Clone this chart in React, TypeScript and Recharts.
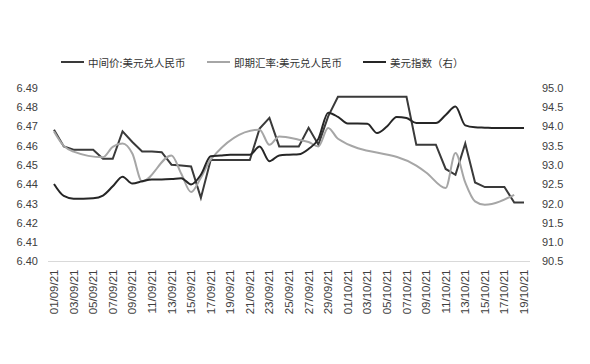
import React from 'react';
import { LineChart, Line, XAxis, YAxis } from 'recharts';

const dates = [
  '01/09/21', '02/09/21', '03/09/21', '04/09/21', '05/09/21', '06/09/21', '07/09/21',
  '08/09/21', '09/09/21', '10/09/21', '11/09/21', '12/09/21', '13/09/21', '14/09/21',
  '15/09/21', '16/09/21', '17/09/21', '18/09/21', '19/09/21', '20/09/21', '21/09/21',
  '22/09/21', '23/09/21', '24/09/21', '25/09/21', '26/09/21', '27/09/21', '28/09/21',
  '29/09/21', '30/09/21', '01/10/21', '02/10/21', '03/10/21', '04/10/21', '05/10/21',
  '06/10/21', '07/10/21', '08/10/21', '09/10/21', '10/10/21', '11/10/21', '12/10/21',
  '13/10/21', '14/10/21', '15/10/21', '16/10/21', '17/10/21', '18/10/21', '19/10/21',
];

// 中间价:美元兑人民币 (left axis)
const centralParity = [
  6.4683, 6.4597, 6.4580, 6.4580, 6.4580, 6.4533, 6.4533,
  6.4675, 6.4620, 6.4571, 6.4571, 6.4567, 6.4502, 6.4498,
  6.4493, 6.4330, 6.4526, 6.4526, 6.4526, 6.4526, 6.4526,
  6.4690, 6.4745, 6.4597, 6.4597, 6.4597, 6.4694, 6.4606,
  6.4753, 6.4854, 6.4854, 6.4854, 6.4854, 6.4854, 6.4854,
  6.4854, 6.4854, 6.4606, 6.4606, 6.4606, 6.4480, 6.4450,
  6.4612, 6.4410, 6.4386, 6.4386, 6.4386, 6.4306, 6.4306,
];

// 即期汇率:美元兑人民币 (left axis), trading days only
const spotRate: (number | null)[] = [
  6.4675, 6.4600, 6.4570, null, null, 6.4541, 6.4595,
  6.4612, 6.4560, 6.4415, null, null, 6.4550, 6.4455,
  6.4360, 6.4435, 6.4528, null, null, null, null,
  6.4684, 6.4605, 6.4649, null, 6.4632, 6.4620, 6.4597,
  6.4692, 6.4637, null, null, null, null, null,
  null, null, 6.4497, 6.4462, null, 6.4381, 6.4563,
  6.4410, 6.4312, 6.4294, null, null, 6.4346, null,
];

// 美元指数（右） (right axis)
const dollarIndex = [
  92.51, 92.20, 92.13, 92.13, 92.14, 92.21, 92.45,
  92.70, 92.52, 92.58, 92.63, 92.63, 92.64, 92.66,
  92.50, 92.75, 93.23, 93.25, 93.27, 93.27, 93.27,
  93.48, 93.10, 93.25, 93.27, 93.28, 93.42, 93.68,
  94.36, 94.25, 94.08, 94.08, 94.07, 93.83, 94.00,
  94.25, 94.22, 94.09, 94.09, 94.09, 94.30, 94.52,
  94.03, 93.98, 93.97, 93.96, 93.96, 93.96, 93.96,
];

const leftTicks = [6.40, 6.41, 6.42, 6.43, 6.44, 6.45, 6.46, 6.47, 6.48, 6.49];
const rightTicks = [90.5, 91.0, 91.5, 92.0, 92.5, 93.0, 93.5, 94.0, 94.5, 95.0];

const seriesNames = ['中间价:美元兑人民币', '即期汇率:美元兑人民币', '美元指数（右）'];
const seriesColors = ['#3a3a3a', '#a6a6a6', '#262626'];

const data = dates.map((d, i) => ({
  date: d,
  cp: centralParity[i],
  spot: spotRate[i],
  dxy: dollarIndex[i],
}));

const numFont = '"Liberation Sans", Arial, sans-serif';
const cjkFont = '"Noto Sans CJK SC", "Noto Sans", sans-serif';
const textColor = '#404040';

const XTick = (props: any) => {
  const { x, y, payload } = props;
  return (
    <text
      x={x}
      y={y}
      transform={`rotate(-90 ${x} ${y})`}
      textAnchor="end"
      dominantBaseline="central"
      fontSize={11.5}
      fill={textColor}
      fontFamily={numFont}
    >
      {payload.value}
    </text>
  );
};

const legendPos = [61, 207, 363];

export default function App() {
  return (
    <div style={{ position: 'absolute', left: 0, top: 0, width: 590, height: 364, background: '#fff' }}>
      {seriesNames.map((name, i) => (
        <div
          key={name}
          style={{
            position: 'absolute',
            left: legendPos[i],
            top: 54,
            height: 16,
            display: 'flex',
            alignItems: 'center',
            fontFamily: cjkFont,
            fontSize: 10.5,
            color: '#333333',
            whiteSpace: 'nowrap',
          }}
        >
          <span style={{ display: 'inline-block', width: 23, height: 2.5, background: seriesColors[i], marginRight: 4 }} />
          <span>{name}</span>
        </div>
      ))}
      <LineChart
        width={590}
        height={364}
        data={data}
        margin={{ top: 88, right: 0, bottom: 42.5, left: 0 }}
      >
        <XAxis
          dataKey="date"
          interval={1}
          tick={<XTick />}
          tickLine={false}
          tickSize={0}
          tickMargin={8}
          height={60}
          padding={{ left: 6, right: 6 }}
          axisLine={{ stroke: '#d9d9d9' }}
        />
        <YAxis
          yAxisId="left"
          domain={[6.40, 6.49]}
          ticks={leftTicks}
          tickFormatter={(v: number) => v.toFixed(2)}
          width={48}
          axisLine={false}
          tickLine={false}
          tickSize={0}
          tickMargin={10}
          tick={{ fontSize: 11, fill: textColor, fontFamily: numFont }}
          interval={0}
        />
        <YAxis
          yAxisId="right"
          orientation="right"
          domain={[90.5, 95]}
          ticks={rightTicks}
          tickFormatter={(v: number) => v.toFixed(1)}
          width={60}
          axisLine={false}
          tickLine={false}
          tickSize={0}
          tickMargin={12}
          tick={{ fontSize: 11, fill: textColor, fontFamily: numFont, textAnchor: 'start' }}
          interval={0}
        />
        <Line
          yAxisId="left"
          type="linear"
          dataKey="cp"
          name={seriesNames[0]}
          stroke={seriesColors[0]}
          strokeWidth={2}
          dot={false}
          isAnimationActive={false}
        />
        <Line
          yAxisId="left"
          type="monotone"
          dataKey="spot"
          name={seriesNames[1]}
          stroke={seriesColors[1]}
          strokeWidth={2}
          dot={false}
          connectNulls
          isAnimationActive={false}
        />
        <Line
          yAxisId="right"
          type="monotone"
          dataKey="dxy"
          name={seriesNames[2]}
          stroke={seriesColors[2]}
          strokeWidth={2}
          dot={false}
          isAnimationActive={false}
        />
      </LineChart>
    </div>
  );
}
